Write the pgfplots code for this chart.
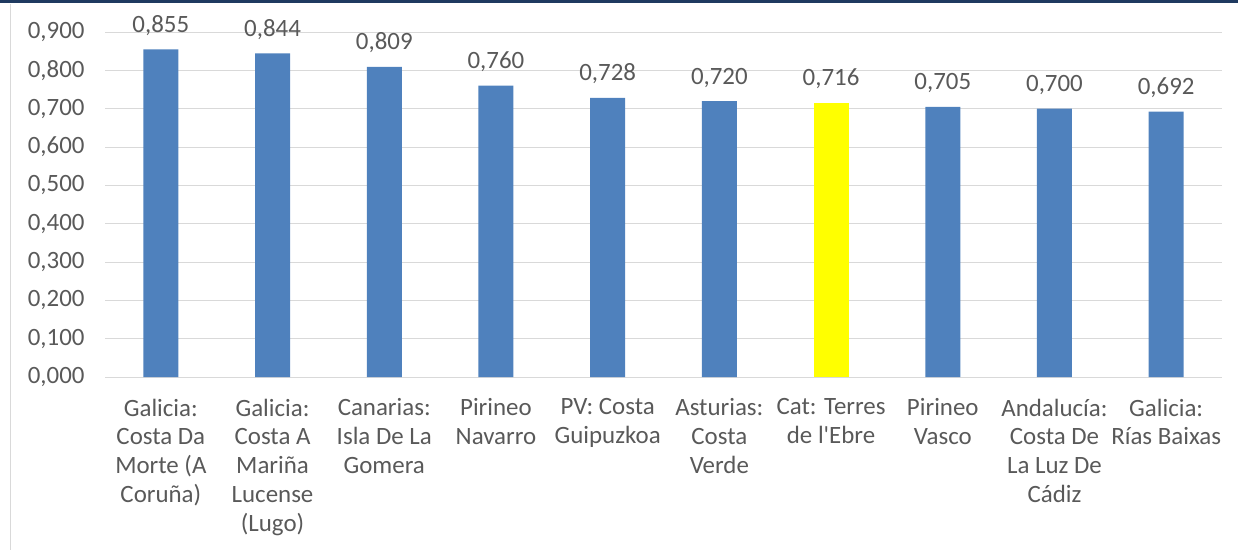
\documentclass[border=0pt]{standalone}
\usepackage{fontspec}
\setmainfont{Carlito}
\newfontfamily\plainfont{Carlito}
\usepackage{pgfplots}
\pgfplotsset{compat=1.18}
\definecolor{barBlue}{HTML}{4F81BD}
\definecolor{barYellow}{HTML}{FFFF00}
\definecolor{txtGray}{HTML}{595959}
\definecolor{gridGray}{HTML}{D9D9D9}
\definecolor{topNavy}{HTML}{1F3A60}

\begin{document}
\begin{tikzpicture}
\useasboundingbox (0,0) rectangle (1238bp,550bp);
\fill[topNavy] (0,547bp) rectangle (1238bp,550bp);
\draw[gridGray, line width=1bp] (10.5bp,0) -- (10.5bp,546bp);
\begin{axis}[
    at={(105bp,173bp)}, anchor=south west,
    scale only axis,
    width=1117bp, height=345bp,
    ybar, bar width=35bp, bar shift=0pt,
    xmin=-0.5, xmax=9.5,
    ymin=0, ymax=0.9,
    ytick={0,0.1,...,0.9},
    xtick={0,...,9},
    xticklabels={
        {Galicia:\\Costa Da\\Morte (A\\Coruña)},
        {Galicia:\\Costa A\\Mariña\\Lucense\\(Lugo)},
        {Canarias:\\Isla De La\\Gomera},
        {Pirineo\\Navarro},
        {PV: Costa\\Guipuzkoa},
        {Asturias:\\Costa\\Verde},
        {Cat: Terres\\de l{\plainfont'}Ebre},
        {Pirineo\\Vasco},
        {Andalucía:\\Costa De\\La Luz De\\Cádiz},
        {Galicia:\\Rías Baixas}},
    axis line style={draw=none},
    tick style={draw=none},
    ymajorgrids=true,
    major grid style={gridGray, line width=1bp},
    clip=false,
    font=\fontsize{25}{29}\selectfont,
    ticklabel style={text=txtGray},
    /pgf/number format/.cd, fixed, fixed zerofill, precision=3, use comma, assume math mode=true,
    /pgfplots/.cd,
    yticklabel style={xshift=-17bp},
    xticklabel style={align=center, yshift=-14bp},
    nodes near coords,
    every node near coord/.append style={anchor=base, yshift=17bp, text=txtGray,
        /pgf/number format/.cd, fixed, fixed zerofill, precision=3, use comma, assume math mode=true},
]
\addplot[fill=barBlue, draw=none] coordinates {
    (0,0.855) (1,0.844) (2,0.809) (3,0.760) (4,0.728)
    (5,0.720) (7,0.705) (8,0.700) (9,0.692)};
\addplot[fill=barYellow, draw=none] coordinates {(6,0.716)};
\end{axis}
\end{tikzpicture}
\end{document}
